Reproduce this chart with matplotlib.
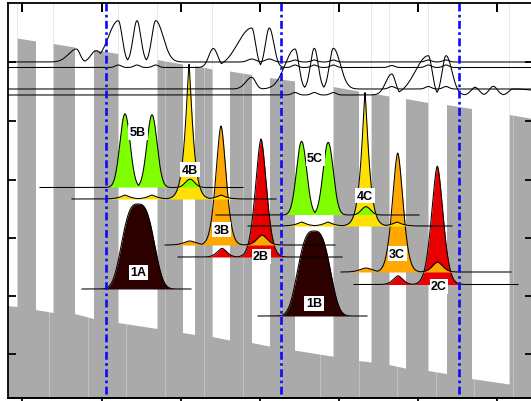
import numpy as np
import matplotlib
matplotlib.use('Agg')
import matplotlib.pyplot as plt

# ---------------- data (pixel-like coordinates) ----------------
# gray columns with slanted tops
col_left = [17.5, 53.5, 94, 157.5, 195, 230, 270, 333.5, 371.5, 406, 447, 509.6]
col_right = [36, 75, 118.5, 183, 212.6, 252, 295, 359, 389.5, 428.5, 472, 533]
col_top_l = [39.5, 45, 51, 61, 67, 72.5, 79, 88, 94.5, 100, 106, 116]
col_top_r = [42.5, 48.5, 55, 65.5, 70.5, 76, 82.5, 92.5, 97.5, 104, 110, 120]
# white gaps (left of each column) with slanted bottoms
gap_bot_l = [307, 311, 315, 324, 334, 338, 344, 351.6, 362, 366, 372, 380]
gap_bot_r = [308, 314, 320, 330, 336, 341.5, 347.6, 357.7, 363.5, 369.6, 375, 385.5]
faint_x = [49, 88, 126, 165, 203.5, 243, 281, 320, 358.5, 397, 435.5, 474, 513]

marker_x = [105.5, 281, 459]

# top traces: baseline and peak components (center, height, fwhm left, fwhm right)
trace_base = [63, 68.5, 90, 96]
trace_c = [
    [76.5, 96, 118.3, 137, 155.7, 251.7, 269.3, 295, 314.3, 333.3, 428.3, 446],
    [118.3, 137, 155.7, 213.3, 251.7, 269.3, 295, 314.3, 333.3, 391.7, 428.3, 446],
    [251.7, 295, 314.3, 333.3, 391.7, 428.3, 446],
    [295, 314.3, 333.3, 391.7, 428.3, 446, 475, 493.3, 513],
]
trace_h = [
    [13, 11.3, 41.3, 41.3, 41.3, 3, 3, 2, 2, 2, 2, 2],
    [2.5, 2.5, 2.5, 19, 39.5, 39.5, 2.5, 2.5, 2.5, 2, 2.5, 2.5],
    [11.7, 40, 40.7, 40.7, 2.5, 2.5, 2.5],
    [2.5, 2.5, 2.5, 21, 39.3, 39.3, 7.7, 8.7, 6],
]
trace_wl = [
    [18.8, 11.8, 23.5, 9, 9, 9.4, 9.4, 7, 7, 7, 7, 7],
    [7, 7, 7, 10.6, 33, 9, 7, 7, 7, 7, 7, 7],
    [14, 23.5, 9, 9, 7, 7, 7],
    [7, 7, 7, 14, 30.6, 9, 9.4, 9.4, 9.4],
]
trace_wr = [
    [8.2, 14.1, 9, 9, 17.7, 9.4, 9.4, 7, 7, 7, 7, 7],
    [7, 7, 7, 10.6, 9, 10.6, 7, 7, 7, 7, 7, 7],
    [9, 9, 9, 16.5, 7, 7, 7],
    [7, 7, 7, 9, 9, 14, 9.4, 9.4, 70],
]

# spectra
spec_labels = ['1A', '1B', '2B', '3B', '4B', '5B', '2C', '3C', '4C', '5C']
spec_base = [290, 317, 258, 246, 200, 188.5, 285.5, 273, 227, 216]
spec_xmin = [82, 258, 178, 165, 72, 40, 354, 341, 248, 216]
spec_xmax = [191, 367, 342, 335, 276, 243, 518, 511, 452, 419]
spec_power = [3, 3, 1.7, 1.7, 1.25, 2, 1.7, 1.7, 1.25, 2]
spec_centers = [[138], [314], [261, 222], [221, 190, 262], [189, 125, 152, 221],
                [125, 152, 190], [437.3, 398], [397.7, 366, 437.5],
                [365, 301.5, 328, 397], [301.6, 328.2, 366]]
spec_heights = [[85], [85], [118, 8.7], [119, 4, 10], [135, 4, 4, 4],
                [73.7, 72.7, 8.3], [118.4, 8.7], [119, 4, 10],
                [133.7, 4, 4, 4], [73.7, 72.7, 8.3]]
spec_fwhm = [[34], [34], [13, 11], [12, 14, 12], [8, 10, 10, 10],
             [12, 12, 11], [13.5, 11], [12.5, 14, 12], [8, 10, 10, 10], [12, 12, 11]]
label_x = [138, 314, 261, 221.5, 190, 138, 439, 397, 365, 315]
label_y = [273, 304, 257.5, 230.5, 170.5, 133, 287, 254.5, 196.5, 159]

MAROON, RED, ORANGE, YELLOW, GREEN = '#2D0000', '#E80000', '#FFA800', '#FFE000', '#7FFF00'
spec_colors = [MAROON, MAROON, RED, ORANGE, YELLOW, GREEN, RED, ORANGE, YELLOW, GREEN]

x_ticks = [22, 102, 181, 260, 339, 418, 497]
y_ticks = [63, 122, 181, 239, 297, 355]

GRAY = '#AAAAAA'
FAINT = '#C6C6C6'


def peak(x, c, h, wl, wr, p=2.0):
    d = x - c
    w = np.where(d < 0, wl, wr)
    return h * np.exp(-np.log(2) * np.abs(2 * d / w) ** p)


# ---------------- figure ----------------
W, H = 531, 402
fig = plt.figure(figsize=(W / 100, H / 100), dpi=100)
X0, X1 = 7.5, 533.0
Y_TOP, Y_BOT = 4.3, 398.8
ax = fig.add_axes([X0 / W, (H - Y_BOT) / H, (X1 - X0) / W, (Y_BOT - Y_TOP) / H])
ax.set_xlim(X0, X1)
ax.set_ylim(Y_BOT, Y_TOP)
ax.set_facecolor(GRAY)

for fx in faint_x:
    ax.plot([fx, fx], [Y_TOP, Y_BOT], color=FAINT, lw=0.6, zorder=0.6)

# white regions above column tops
for x0, x1, t0, t1 in zip(col_left, col_right, col_top_l, col_top_r):
    ax.fill([x0, x1, x1, x0], [Y_TOP - 2, Y_TOP - 2, t1, t0], color='white', lw=0, zorder=1)
# white gaps between columns
gap_left = [X0 - 1] + col_right[:-1]
for x0, x1, b0, b1 in zip(gap_left, col_left, gap_bot_l, gap_bot_r):
    ax.fill([x0, x1, x1, x0], [Y_TOP - 2, Y_TOP - 2, b1, b0], color='white', lw=0, zorder=1)

# top traces
xt = np.linspace(X0, X1, 3000)
for base, cs, hs, wls, wrs in zip(trace_base, trace_c, trace_h, trace_wl, trace_wr):
    comp = np.zeros_like(xt)
    for c, h, wl, wr in zip(cs, hs, wls, wrs):
        comp = np.maximum(comp, peak(xt, c, h, wl, wr))
    ax.plot(xt, base - comp, color='black', lw=0.75, zorder=15)

# spectra
for i, lab in enumerate(spec_labels):
    xs = np.linspace(spec_xmin[i], spec_xmax[i], 1500)
    comp = np.zeros_like(xs)
    for c, h, w in zip(spec_centers[i], spec_heights[i], spec_fwhm[i]):
        comp = np.maximum(comp, peak(xs, c, h, w, w, spec_power[i]))
    ys = spec_base[i] - comp
    z = 4 + i
    ax.fill_between(xs, spec_base[i], ys, where=comp > 0.05, color=spec_colors[i],
                    lw=0, zorder=z)
    ax.plot(xs, ys, color='black', lw=0.75, zorder=z + 0.5)
    ax.text(label_x[i], label_y[i], lab, ha='center', va='center', fontsize=9,
            fontweight='bold', family=['Liberation Sans', 'DejaVu Sans'], zorder=30,
            bbox=dict(boxstyle='square,pad=0.12', fc='white', ec='none'))

# blue dash-dot markers
for mx in marker_x:
    ax.plot([mx, mx], [Y_TOP, Y_BOT], color='#0A0AFF', lw=1.9,
            dashes=(3.0, 1.3, 1.0, 1.3), zorder=20)

# frame and ticks
for s in ax.spines.values():
    s.set_linewidth(1.3)
    s.set_zorder(40)
ax.set_xticks(x_ticks)
ax.set_yticks(y_ticks)
ax.set_xticklabels([])
ax.set_yticklabels([])
ax.tick_params(axis='x', direction='in', length=6, width=1.3, bottom=False, top=True)
ax.tick_params(axis='y', direction='in', length=6, width=1.3, left=True, right=True)
# top tick marks reinforced on the axis transform (x in data, y in axes fraction)
top_len = 8.5 / (Y_BOT - Y_TOP)
for tx in x_ticks:
    ax.plot([tx, tx], [1.0, 1.0 - top_len], color='black', lw=1.4, zorder=41,
            transform=ax.get_xaxis_transform(), clip_on=False, solid_capstyle='butt')
sec = ax.secondary_xaxis('bottom')
sec.set_xticks(x_ticks)
sec.set_xticklabels([])
sec.tick_params(direction='out', length=3, width=1.3)
sec.spines['bottom'].set_linewidth(1.3)

fig.savefig('out.png', dpi=100)
